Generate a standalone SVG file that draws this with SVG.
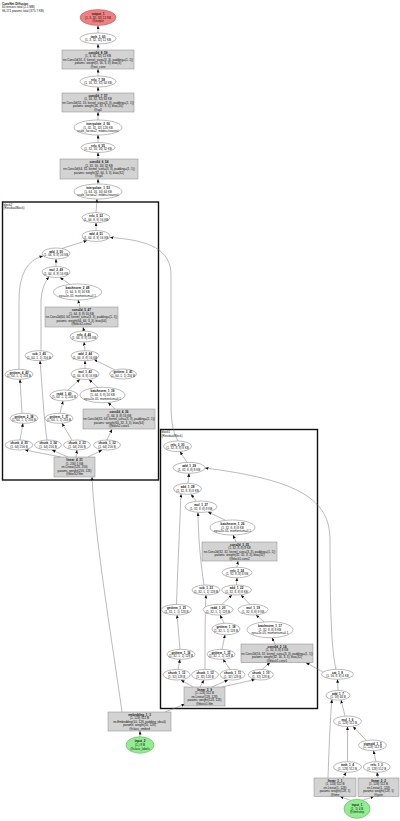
<svg xmlns="http://www.w3.org/2000/svg" width="400" height="821" viewBox="0 0 400 821">
<style>
text{font-family:"Liberation Sans",Arial,sans-serif;font-size:3px;fill:#111;text-anchor:middle}
.hd{text-anchor:start}
.b{font-weight:bold}
.fn{fill:#fff;stroke:#777;stroke-width:0.5}
.md{fill:#d3d3d3;stroke:#888;stroke-width:0.5}
.red{fill:#f08080;stroke:#b05050;stroke-width:0.5}
.grn{fill:#90ee90;stroke:#50a050;stroke-width:0.5}
.cl{fill:none;stroke:#111;stroke-width:1.4}
#edges path{fill:none;stroke:#777;stroke-width:0.5;marker-end:url(#ah)}
</style>
<defs>
<marker id="ah" markerUnits="userSpaceOnUse" markerWidth="4" markerHeight="3" refX="3.5" refY="1.5" orient="auto"><path d="M0,0 L3.5,1.5 L0,3 z" fill="#111"/></marker>
</defs>
<rect width="400" height="821" fill="#fff"/>
<text class="hd" x="2" y="4.5"><tspan class="b">ConvNet Diffusion</tspan><tspan x="2" dy="3.5">60 tensors total (2.1 MB)</tspan><tspan x="2" dy="3.5">96,171 params total (375.7 KB)</tspan></text>

<g id="clusters">
<g id="cluster_block2"><rect class="cl" x="2.5" y="202" width="156" height="278"/><text class="hd" x="3.5" y="205.8">block2<tspan x="3.5" dy="3.2">(ResidualBlock)</tspan></text></g>
<g id="cluster_block1"><rect class="cl" x="160.5" y="429.5" width="157" height="279"/><text class="hd" x="161.5" y="433.3">block1<tspan x="161.5" dy="3.2">(ResidualBlock)</tspan></text></g>
</g>

<g id="edges">
<path d="M98,33 L98,25.5"/>
<path d="M98,50 L98,44"/>
<path d="M98,76 L98,69"/>
<path d="M98,93 L98,87"/>
<path d="M98,120 L98,112"/>
<path d="M98,142.5 L98,135"/>
<path d="M98,159 L98,152.5"/>
<path d="M98,184 L98,179"/>
<path d="M96,212.7 L97,199"/>
<path d="M96,230.5 L96,222.7"/>
<path d="M62,248.5 L87,240.5"/>
<path d="M56,266.5 L56,259"/>
<path d="M70,284.5 L60,277.5"/>
<path d="M80,307 L78,300"/>
<path d="M84,331 L83,327.3"/>
<path d="M85,350.7 L84,342"/>
<path d="M85,368.5 L85,360.7"/>
<path d="M115,370 L94,359.5"/>
<path d="M68,390 L80,379.2"/>
<path d="M98,387.5 L89,379.5"/>
<path d="M115,409 L108,402.5"/>
<path d="M22,413.3 L20,379.3"/>
<path d="M60,413.3 L63,401"/>
<path d="M19,369.3 L19,300 Q19,262 43,256"/>
<path d="M41,350.7 L41,300 Q42,285 49,277"/>
<path d="M20,440 L23,423.3"/>
<path d="M47,440 C44,420 42,385 40,360.7"/>
<path d="M72,440 L62,423.3"/>
<path d="M107,440 L112,429.3"/>
<path d="M61,457 L25,450"/>
<path d="M68,457 L52,450"/>
<path d="M76,457 L77,450"/>
<path d="M88,457 L102,450"/>
<path d="M122,712 C112,640 95,540 92,477"/>
<path d="M165,712 L185,704"/>
<path d="M140,736.7 L140,731"/>
<path d="M178,441 C172,430 171,420 171,400 L171,275 C171,250 150,240 110,237.5"/>
<path d="M187,462.3 L180,451.6"/>
<path d="M188,483.3 L189,473.3"/>
<path d="M196,501 L191,494.3"/>
<path d="M225,520 L208,512"/>
<path d="M236,542 L233,535"/>
<path d="M237,567.2 L238,561"/>
<path d="M236.5,585 L237,577.8"/>
<path d="M222,604.4 L232,595"/>
<path d="M250,604.4 L241,595"/>
<path d="M224,623.2 L220,615"/>
<path d="M264,621.7 L256,615"/>
<path d="M275,644 L272,637.7"/>
<path d="M180,649.3 L177,615"/>
<path d="M222,649.3 L225,634.8"/>
<path d="M176.5,604.4 C178,560 180,520 181,494"/>
<path d="M204,585 C200,560 198,530 198,512.4"/>
<path d="M178,669.4 L180,659.3"/>
<path d="M205,669.4 C205,640 205,610 206,595"/>
<path d="M230,669.4 L223,659.3"/>
<path d="M262,669.4 L270,662.7"/>
<path d="M193,687 L181,680"/>
<path d="M200,687 L204,680"/>
<path d="M212,687 L228,680"/>
<path d="M222,687 L255,679.5"/>
<path d="M336,669.3 C331,650 330,600 330,540 C330,500 300,480 205,468"/>
<path d="M323,672 L306,662.7"/>
<path d="M338,690.5 L337.5,679.3"/>
<path d="M345,716 L341,700"/>
<path d="M366,740.2 L353,726.5"/>
<path d="M347.5,761.7 L347.5,726.6"/>
<path d="M376,761.7 L373.5,750.6"/>
<path d="M328,778 C329,750 330,720 332,699.5"/>
<path d="M343,778 L346,772.3"/>
<path d="M378,778 L377,772.3"/>
<path d="M351,800.5 L340,796.5"/>
<path d="M362,800.5 L374,796.5"/>
</g>

<g id="nodes">
<g id="output_1"><ellipse class="red" cx="98" cy="17.5" rx="18" ry="8"/><text x="98" y="14.9"><tspan class="b">output_1</tspan><tspan x="98" dy="3.6">(1, 3, 32, 32) 12 KB</tspan><tspan x="98" dy="3.6">@output</tspan></text></g>
<g id="tanh_1_60"><ellipse class="fn" cx="98" cy="38.5" rx="18" ry="5.5"/><text x="98" y="37.7"><tspan class="b">tanh_1_60</tspan><tspan x="98" dy="3.6">(1, 3, 32, 32) 12 KB</tspan></text></g>
<g id="conv2d_8_59"><rect class="md" x="62" y="50" width="72" height="19"/><text x="98" y="53.6"><tspan class="b">conv2d_8_59</tspan><tspan x="98" dy="3.5">(1, 3, 32, 32) 12 KB</tspan><tspan x="98" dy="3.5">nn.Conv2d(16, 3, kernel_size=(3, 3), padding=(1, 1))</tspan><tspan x="98" dy="3.5">params: weight(3, 16, 3, 3), bias(3)</tspan><tspan x="98" dy="3.5">@out_conv</tspan></text></g>
<g id="relu_7_58"><ellipse class="fn" cx="98" cy="81.5" rx="18" ry="5.5"/><text x="98" y="80.7"><tspan class="b">relu_7_58</tspan><tspan x="98" dy="3.6">(1, 16, 32, 32) 64 KB</tspan></text></g>
<g id="conv2d_7_57"><rect class="md" x="62" y="93" width="72" height="19"/><text x="98" y="96.6"><tspan class="b">conv2d_7_57</tspan><tspan x="98" dy="3.5">(1, 16, 32, 32) 64 KB</tspan><tspan x="98" dy="3.5">nn.Conv2d(32, 16, kernel_size=(3, 3), padding=(1, 1))</tspan><tspan x="98" dy="3.5">params: weight(16, 32, 3, 3), bias(16)</tspan><tspan x="98" dy="3.5">@up2</tspan></text></g>
<g id="interpolate_2_56"><ellipse class="fn" cx="98" cy="127.5" rx="24" ry="7.5"/><text x="98" y="124.9"><tspan class="b">interpolate_2_56</tspan><tspan x="98" dy="3.6">(1, 32, 32, 32) 128 KB</tspan><tspan x="98" dy="3.6">scale_factor=2, mode='nearest'</tspan></text></g>
<g id="relu_6_55"><ellipse class="fn" cx="98" cy="147.5" rx="17" ry="5"/><text x="98" y="146.7"><tspan class="b">relu_6_55</tspan><tspan x="98" dy="3.6">(1, 32, 16, 16) 32 KB</tspan></text></g>
<g id="conv2d_6_54"><rect class="md" x="60" y="159" width="78" height="20"/><text x="99" y="163.1"><tspan class="b">conv2d_6_54</tspan><tspan x="99" dy="3.5">(1, 32, 16, 16) 32 KB</tspan><tspan x="99" dy="3.5">nn.Conv2d(64, 32, kernel_size=(3, 3), padding=(1, 1))</tspan><tspan x="99" dy="3.5">params: weight(32, 64, 3, 3), bias(32)</tspan><tspan x="99" dy="3.5">@up1</tspan></text></g>
<g id="interpolate_1_53"><ellipse class="fn" cx="98" cy="191.5" rx="24" ry="7.5"/><text x="98" y="188.9"><tspan class="b">interpolate_1_53</tspan><tspan x="98" dy="3.6">(1, 64, 16, 16) 64 KB</tspan><tspan x="98" dy="3.6">scale_factor=2, mode='nearest'</tspan></text></g>

<g id="relu_5_52"><ellipse class="fn" cx="96" cy="217.7" rx="14" ry="5"/><text x="96" y="216.9"><tspan class="b">relu_5_52</tspan><tspan x="96" dy="3.6">(1, 64, 8, 8) 16 KB</tspan></text></g>
<g id="add_4_51"><ellipse class="fn" cx="96" cy="236" rx="14" ry="5.5"/><text x="96" y="235.2"><tspan class="b">add_4_51</tspan><tspan x="96" dy="3.6">(1, 64, 8, 8) 16 KB</tspan></text></g>
<g id="add_3_50"><ellipse class="fn" cx="56" cy="253.5" rx="14" ry="5.5"/><text x="56" y="252.7"><tspan class="b">add_3_50</tspan><tspan x="56" dy="3.6">(1, 64, 8, 8) 16 KB</tspan></text></g>
<g id="mul_2_49"><ellipse class="fn" cx="56" cy="272" rx="14" ry="5.5"/><text x="56" y="271.2"><tspan class="b">mul_2_49</tspan><tspan x="56" dy="3.6">(1, 64, 8, 8) 16 KB</tspan></text></g>
<g id="batchnorm_2_48"><ellipse class="fn" cx="77.5" cy="292" rx="24" ry="8"/><text x="77.5" y="289.4"><tspan class="b">batchnorm_2_48</tspan><tspan x="77.5" dy="3.6">(1, 64, 8, 8) 16 KB</tspan><tspan x="77.5" dy="3.6">eps=1e-05, momentum=0.1</tspan></text></g>
<g id="conv2d_5_47"><rect class="md" x="45" y="307" width="73" height="20"/><text x="81.5" y="311.1"><tspan class="b">conv2d_5_47</tspan><tspan x="81.5" dy="3.5">(1, 64, 8, 8) 16 KB</tspan><tspan x="81.5" dy="3.5">nn.Conv2d(64, 64, kernel_size=(3, 3), padding=(1, 1))</tspan><tspan x="81.5" dy="3.5">params: weight(64, 64, 3, 3), bias(64)</tspan><tspan x="81.5" dy="3.5">@block2.conv2</tspan></text></g>
<g id="relu_4_46"><ellipse class="fn" cx="84" cy="336.5" rx="14" ry="5.5"/><text x="84" y="335.7"><tspan class="b">relu_4_46</tspan><tspan x="84" dy="3.6">(1, 64, 8, 8) 16 KB</tspan></text></g>
<g id="sub_1_45"><ellipse class="fn" cx="39" cy="355.7" rx="14" ry="5"/><text x="39" y="354.9"><tspan class="b">sub_1_45</tspan><tspan x="39" dy="3.6">(1, 64, 1, 1) 256 B</tspan></text></g>
<g id="add_2_44"><ellipse class="fn" cx="85" cy="355.7" rx="14" ry="5"/><text x="85" y="354.9"><tspan class="b">add_2_44</tspan><tspan x="85" dy="3.6">(1, 64, 8, 8) 16 KB</tspan></text></g>
<g id="getitem_4_43"><ellipse class="fn" cx="19" cy="374.3" rx="14" ry="5"/><text x="19" y="373.5"><tspan class="b">getitem_4_43</tspan><tspan x="19" dy="3.6">(1, 64, 1, 1) 256 B</tspan></text></g>
<g id="mul_1_42"><ellipse class="fn" cx="85" cy="374" rx="14" ry="5.5"/><text x="85" y="373.2"><tspan class="b">mul_1_42</tspan><tspan x="85" dy="3.6">(1, 64, 8, 8) 16 KB</tspan></text></g>
<g id="getitem_3_41"><ellipse class="fn" cx="123" cy="374" rx="13.5" ry="5"/><text x="123" y="373.2"><tspan class="b">getitem_3_41</tspan><tspan x="123" dy="3.6">(1, 64, 1, 1) 256 B</tspan></text></g>
<g id="radd_1_40"><ellipse class="fn" cx="64" cy="395.5" rx="14" ry="5.5"/><text x="64" y="394.7"><tspan class="b">radd_1_40</tspan><tspan x="64" dy="3.6">(1, 64, 1, 1) 256 B</tspan></text></g>
<g id="batchnorm_1_39"><ellipse class="fn" cx="102.5" cy="395" rx="22.5" ry="7.7"/><text x="102.5" y="392.4"><tspan class="b">batchnorm_1_39</tspan><tspan x="102.5" dy="3.6">(1, 64, 8, 8) 16 KB</tspan><tspan x="102.5" dy="3.6">eps=1e-05, momentum=0.1</tspan></text></g>
<g id="getitem_2_38"><ellipse class="fn" cx="24" cy="418.3" rx="14" ry="5"/><text x="24" y="417.5"><tspan class="b">getitem_2_38</tspan><tspan x="24" dy="3.6">(1, 64, 1, 1) 256 B</tspan></text></g>
<g id="getitem_1_37"><ellipse class="fn" cx="59" cy="418.3" rx="14" ry="5"/><text x="59" y="417.5"><tspan class="b">getitem_1_37</tspan><tspan x="59" dy="3.6">(1, 64, 1, 1) 256 B</tspan></text></g>
<g id="conv2d_4_36"><rect class="md" x="83" y="409" width="72" height="20"/><text x="119" y="413.1"><tspan class="b">conv2d_4_36</tspan><tspan x="119" dy="3.5">(1, 64, 8, 8) 16 KB</tspan><tspan x="119" dy="3.5">nn.Conv2d(32, 64, kernel_size=(3, 3), padding=(1, 1))</tspan><tspan x="119" dy="3.5">params: weight(64, 32, 3, 3), bias(64)</tspan><tspan x="119" dy="3.5">@block2.conv1</tspan></text></g>
<g id="chunk_4_35"><ellipse class="fn" cx="19" cy="445" rx="14" ry="5"/><text x="19" y="444.2"><tspan class="b">chunk_4_35</tspan><tspan x="19" dy="3.6">(1, 64) 256 B</tspan></text></g>
<g id="chunk_3_34"><ellipse class="fn" cx="48" cy="445" rx="13.5" ry="5"/><text x="48" y="444.2"><tspan class="b">chunk_3_34</tspan><tspan x="48" dy="3.6">(1, 64) 256 B</tspan></text></g>
<g id="chunk_2_33"><ellipse class="fn" cx="77" cy="445" rx="13.5" ry="5"/><text x="77" y="444.2"><tspan class="b">chunk_2_33</tspan><tspan x="77" dy="3.6">(1, 64) 256 B</tspan></text></g>
<g id="chunk_1_32"><ellipse class="fn" cx="107" cy="445" rx="13.5" ry="5"/><text x="107" y="444.2"><tspan class="b">chunk_1_32</tspan><tspan x="107" dy="3.6">(1, 64) 256 B</tspan></text></g>
<g id="linear_4_31"><rect class="md" x="54" y="457" width="41" height="20"/><text x="74.5" y="461.1"><tspan class="b">linear_4_31</tspan><tspan x="74.5" dy="3.5">(1, 256) 1 KB</tspan><tspan x="74.5" dy="3.5">nn.Linear(128, 256)</tspan><tspan x="74.5" dy="3.5">params: weight(256, 128)</tspan><tspan x="74.5" dy="3.5">@block2.film</tspan></text></g>

<g id="relu_3_30"><ellipse class="fn" cx="177.5" cy="446.3" rx="14" ry="5.3"/><text x="177.5" y="445.5"><tspan class="b">relu_3_30</tspan><tspan x="177.5" dy="3.6">(1, 32, 8, 8) 8 KB</tspan></text></g>
<g id="add_1_29"><ellipse class="fn" cx="189" cy="467.8" rx="16" ry="5.5"/><text x="189" y="467"><tspan class="b">add_1_29</tspan><tspan x="189" dy="3.6">(1, 32, 8, 8) 8 KB</tspan></text></g>
<g id="add_1_28"><ellipse class="fn" cx="187.5" cy="488.8" rx="14" ry="5.5"/><text x="187.5" y="488"><tspan class="b">add_1_28</tspan><tspan x="187.5" dy="3.6">(1, 32, 8, 8) 8 KB</tspan></text></g>
<g id="mul_1_27"><ellipse class="fn" cx="201" cy="506.7" rx="16" ry="5.7"/><text x="201" y="505.9"><tspan class="b">mul_1_27</tspan><tspan x="201" dy="3.6">(1, 32, 8, 8) 8 KB</tspan></text></g>
<g id="batchnorm_1_26"><ellipse class="fn" cx="232.5" cy="527.5" rx="22.5" ry="7.5"/><text x="232.5" y="524.9"><tspan class="b">batchnorm_1_26</tspan><tspan x="232.5" dy="3.6">(1, 32, 8, 8) 8 KB</tspan><tspan x="232.5" dy="3.6">eps=1e-05, momentum=0.1</tspan></text></g>
<g id="conv2d_3_25"><rect class="md" x="202" y="542" width="75" height="19"/><text x="239.5" y="545.6"><tspan class="b">conv2d_3_25</tspan><tspan x="239.5" dy="3.5">(1, 32, 8, 8) 8 KB</tspan><tspan x="239.5" dy="3.5">nn.Conv2d(32, 32, kernel_size=(3, 3), padding=(1, 1))</tspan><tspan x="239.5" dy="3.5">params: weight(32, 32, 3, 3), bias(32)</tspan><tspan x="239.5" dy="3.5">@block1.conv2</tspan></text></g>
<g id="relu_2_24"><ellipse class="fn" cx="237" cy="572.5" rx="15" ry="5.3"/><text x="237" y="571.7"><tspan class="b">relu_2_24</tspan><tspan x="237" dy="3.6">(1, 32, 8, 8) 8 KB</tspan></text></g>
<g id="sub_1_23"><ellipse class="fn" cx="206" cy="590" rx="14" ry="5"/><text x="206" y="589.2"><tspan class="b">sub_1_23</tspan><tspan x="206" dy="3.6">(1, 32, 1, 1) 128 B</tspan></text></g>
<g id="add_1_22"><ellipse class="fn" cx="236.5" cy="590" rx="15" ry="5"/><text x="236.5" y="589.2"><tspan class="b">add_1_22</tspan><tspan x="236.5" dy="3.6">(1, 32, 8, 8) 8 KB</tspan></text></g>
<g id="getitem_1_21"><ellipse class="fn" cx="176.5" cy="609.7" rx="15" ry="5.3"/><text x="176.5" y="608.9"><tspan class="b">getitem_1_21</tspan><tspan x="176.5" dy="3.6">(1, 32, 1, 1) 128 B</tspan></text></g>
<g id="radd_1_20"><ellipse class="fn" cx="218" cy="609.7" rx="15" ry="5.3"/><text x="218" y="608.9"><tspan class="b">radd_1_20</tspan><tspan x="218" dy="3.6">(1, 32, 1, 1) 128 B</tspan></text></g>
<g id="mul_1_19"><ellipse class="fn" cx="253" cy="609.7" rx="15" ry="5.3"/><text x="253" y="608.9"><tspan class="b">mul_1_19</tspan><tspan x="253" dy="3.6">(1, 32, 8, 8) 8 KB</tspan></text></g>
<g id="getitem_1_18"><ellipse class="fn" cx="226" cy="629" rx="14" ry="5.8"/><text x="226" y="628.2"><tspan class="b">getitem_1_18</tspan><tspan x="226" dy="3.6">(1, 32, 1, 1) 128 B</tspan></text></g>
<g id="batchnorm_1_17"><ellipse class="fn" cx="270" cy="629.7" rx="23" ry="8"/><text x="270" y="627.1"><tspan class="b">batchnorm_1_17</tspan><tspan x="270" dy="3.6">(1, 32, 8, 8) 8 KB</tspan><tspan x="270" dy="3.6">eps=1e-05, momentum=0.1</tspan></text></g>
<g id="getitem_1_16"><ellipse class="fn" cx="181" cy="654.3" rx="14" ry="5"/><text x="181" y="653.5"><tspan class="b">getitem_1_16</tspan><tspan x="181" dy="3.6">(1, 32, 1, 1) 128 B</tspan></text></g>
<g id="getitem_1_15"><ellipse class="fn" cx="221" cy="654.3" rx="14" ry="5"/><text x="221" y="653.5"><tspan class="b">getitem_1_15</tspan><tspan x="221" dy="3.6">(1, 32, 1, 1) 128 B</tspan></text></g>
<g id="conv2d_2_14"><rect class="md" x="241" y="644" width="72" height="18.7"/><text x="277" y="647.5"><tspan class="b">conv2d_2_14</tspan><tspan x="277" dy="3.5">(1, 32, 8, 8) 8 KB</tspan><tspan x="277" dy="3.5">nn.Conv2d(16, 32, kernel_size=(3, 3), padding=(1, 1))</tspan><tspan x="277" dy="3.5">params: weight(32, 16, 3, 3), bias(32)</tspan><tspan x="277" dy="3.5">@block1.conv1</tspan></text></g>
<g id="chunk_1_13"><ellipse class="fn" cx="176.7" cy="674.7" rx="13.5" ry="5.3"/><text x="176.7" y="673.9"><tspan class="b">chunk_1_13</tspan><tspan x="176.7" dy="3.6">(1, 32) 128 B</tspan></text></g>
<g id="chunk_1_12"><ellipse class="fn" cx="205" cy="674.7" rx="13.5" ry="5.3"/><text x="205" y="673.9"><tspan class="b">chunk_1_12</tspan><tspan x="205" dy="3.6">(1, 32) 128 B</tspan></text></g>
<g id="chunk_1_11"><ellipse class="fn" cx="232.5" cy="674.7" rx="12.5" ry="5.3"/><text x="232.5" y="673.9"><tspan class="b">chunk_1_11</tspan><tspan x="232.5" dy="3.6">(1, 32) 128 B</tspan></text></g>
<g id="chunk_1_10"><ellipse class="fn" cx="260.8" cy="674.7" rx="12.5" ry="5.3"/><text x="260.8" y="673.9"><tspan class="b">chunk_1_10</tspan><tspan x="260.8" dy="3.6">(1, 32) 128 B</tspan></text></g>
<g id="linear_3_9"><rect class="md" x="184" y="687" width="41" height="19"/><text x="204.5" y="690.6"><tspan class="b">linear_3_9</tspan><tspan x="204.5" dy="3.5">(1, 128) 512 B</tspan><tspan x="204.5" dy="3.5">nn.Linear(128, 128)</tspan><tspan x="204.5" dy="3.5">params: weight(128, 128)</tspan><tspan x="204.5" dy="3.5">@block1.film</tspan></text></g>

<g id="embedding_1_3"><rect class="md" x="108" y="712" width="63" height="19"/><text x="139.5" y="715.6"><tspan class="b">embedding_1_3</tspan><tspan x="139.5" dy="3.5">(1, 128) 512 B</tspan><tspan x="139.5" dy="3.5">nn.Embedding(10, 128, padding_idx=0)</tspan><tspan x="139.5" dy="3.5">params: weight(10, 128)</tspan><tspan x="139.5" dy="3.5">@class_embed</tspan></text></g>
<g id="input_2"><ellipse class="grn" cx="140" cy="745" rx="14" ry="8.3"/><text x="140" y="742.4"><tspan class="b">input_2</tspan><tspan x="140" dy="3.6">(1,) 8 B</tspan><tspan x="140" dy="3.6">@class_labels</tspan></text></g>

<g id="cat_1_8"><ellipse class="fn" cx="337.5" cy="674.3" rx="16" ry="5"/><text x="337.5" y="673.5"><tspan class="b">cat_1_8</tspan><tspan x="337.5" dy="3.6">(1, 16, 8, 8) 4 KB</tspan></text></g>
<g id="add_1_7"><ellipse class="fn" cx="338" cy="695.3" rx="12" ry="4.8"/><text x="338" y="694.5"><tspan class="b">add_1_7</tspan><tspan x="338" dy="3.6">(1, 16) 64 B</tspan></text></g>
<g id="mul_1_6"><ellipse class="fn" cx="347.5" cy="721.3" rx="14" ry="5.3"/><text x="347.5" y="720.5"><tspan class="b">mul_1_6</tspan><tspan x="347.5" dy="3.6">(1, 128) 512 B</tspan></text></g>
<g id="sigmoid_1_5"><ellipse class="fn" cx="372.5" cy="745.3" rx="14" ry="5.3"/><text x="372.5" y="744.5"><tspan class="b">sigmoid_1_5</tspan><tspan x="372.5" dy="3.6">(1, 128) 512 B</tspan></text></g>
<g id="tanh_1_4"><ellipse class="fn" cx="347.5" cy="767" rx="14" ry="5.3"/><text x="347.5" y="766.2"><tspan class="b">tanh_1_4</tspan><tspan x="347.5" dy="3.6">(1, 128) 512 B</tspan></text></g>
<g id="relu_1_3"><ellipse class="fn" cx="376.7" cy="767" rx="13.5" ry="5.3"/><text x="376.7" y="766.2"><tspan class="b">relu_1_3</tspan><tspan x="376.7" dy="3.6">(1, 128) 512 B</tspan></text></g>
<g id="linear_1_1"><rect class="md" x="314" y="778" width="42" height="18.5"/><text x="335" y="781.5"><tspan class="b">linear_1_1</tspan><tspan x="335" dy="3.5">(1, 128) 512 B</tspan><tspan x="335" dy="3.5">nn.Linear(1, 128)</tspan><tspan x="335" dy="3.5">params: weight(128, 1)</tspan><tspan x="335" dy="3.5">@time</tspan></text></g>
<g id="linear_2_2"><rect class="md" x="358" y="778" width="41" height="18.5"/><text x="378.5" y="781.5"><tspan class="b">linear_2_2</tspan><tspan x="378.5" dy="3.5">(1, 128) 512 B</tspan><tspan x="378.5" dy="3.5">nn.Linear(1, 128)</tspan><tspan x="378.5" dy="3.5">params: weight(128, 1)</tspan><tspan x="378.5" dy="3.5">@gate</tspan></text></g>
<g id="input_1"><ellipse class="grn" cx="357" cy="808.8" rx="13" ry="9.5"/><text x="357" y="806.2"><tspan class="b">input_1</tspan><tspan x="357" dy="3.6">(1, 1) 4 B</tspan><tspan x="357" dy="3.6">@timestep</tspan></text></g>
</g>
</svg>
